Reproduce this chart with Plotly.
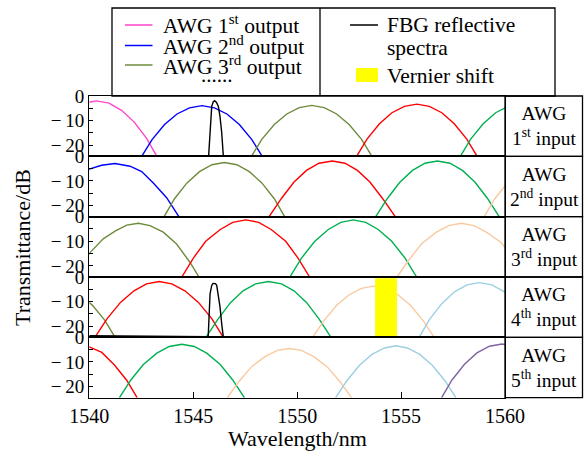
import plotly.graph_objects as go
from plotly.subplots import make_subplots

# ---------------- data (wavelength in nm, transmittance in dB) ----------------
x_ticks = [1540, 1545, 1550, 1555, 1560]
y_tickvals = [0, -5, -10, -15, -20]
y_ticktext = ["0", "", "\u2212\u200910", "", "\u2212\u200920"]
panel_labels = ["1<sup>st</sup>", "2<sup>nd</sup>", "3<sup>rd</sup>", "4<sup>th</sup>", "5<sup>th</sup>"]

# Panel 1 : AWG 1st input
p1_pink_x = [1537.45, 1537.95, 1538.55, 1539.15, 1539.75, 1540.35, 1540.95, 1541.55, 1542.15, 1542.75, 1543.25]
p1_pink_y = [-24.5, -17.1, -10.5, -5.8, -2.9, -2.0, -2.9, -5.8, -10.5, -17.1, -24.5]
p1_blue_x = [1542.52, 1543.02, 1543.62, 1544.22, 1544.82, 1545.42, 1546.02, 1546.62, 1547.22, 1547.82, 1548.32]
p1_blue_y = [-24.5, -17.7, -11.6, -7.3, -4.8, -3.9, -4.8, -7.3, -11.6, -17.7, -24.5]
p1_olive_x = [1547.8, 1548.3, 1548.9, 1549.5, 1550.1, 1550.7, 1551.3, 1551.9, 1552.5, 1553.1, 1553.6]
p1_olive_y = [-24.5, -17.6, -11.6, -7.3, -4.7, -3.8, -4.7, -7.3, -11.6, -17.6, -24.5]
p1_red_x = [1552.86, 1553.36, 1553.96, 1554.56, 1555.16, 1555.76, 1556.36, 1556.96, 1557.56, 1558.16, 1558.66]
p1_red_y = [-24.5, -17.5, -11.3, -6.8, -4.2, -3.3, -4.2, -6.8, -11.3, -17.5, -24.5]
p1_green_x = [1557.85, 1558.35, 1558.95, 1559.55, 1560.15, 1560.75, 1561.35, 1561.95]
p1_green_y = [-24.5, -17.5, -11.3, -6.8, -4.2, -3.3, -4.2, -6.8]
p1_fbg_x = [1545.74, 1545.81, 1545.89, 1545.96, 1546.03, 1546.12, 1546.21, 1546.29, 1546.37, 1546.45]
p1_fbg_y = [-24.5, -13.5, -4.2, -2.4, -1.9, -2.6, -4.2, -8.5, -14.8, -24.5]

# Panel 2 : AWG 2nd input
p2_blue_x = [1538.2, 1538.8, 1539.4, 1540.0, 1540.59, 1541.24, 1541.96, 1542.52, 1543.08, 1543.72, 1544.31]
p2_blue_y = [-24.5, -17.0, -10.5, -5.2, -3.6, -2.9, -4.0, -6.2, -10.8, -16.8, -24.5]
p2_olive_x = [1543.6, 1544.1, 1544.7, 1545.3, 1545.9, 1546.5, 1547.1, 1547.7, 1548.3, 1548.9, 1549.4]
p2_olive_y = [-24.5, -17.2, -10.8, -6.2, -3.4, -2.5, -3.4, -6.2, -10.8, -17.2, -24.5]
p2_red_x = [1548.65, 1549.25, 1549.85, 1550.45, 1551.05, 1551.69, 1552.3, 1552.9, 1553.5, 1554.1, 1554.72]
p2_red_y = [-24.5, -17.0, -10.4, -5.7, -2.8, -1.9, -2.8, -5.7, -10.4, -17.0, -24.5]
p2_green_x = [1553.78, 1554.35, 1554.95, 1555.55, 1556.15, 1556.75, 1557.35, 1557.95, 1558.55, 1559.15, 1559.72]
p2_green_y = [-24.5, -17.0, -10.4, -5.7, -2.8, -1.9, -2.8, -5.7, -10.4, -17.0, -24.5]
p2_peach_x = [1559.0, 1559.5, 1560.1, 1560.7, 1561.3, 1561.9]
p2_peach_y = [-24.5, -17.3, -10.9, -6.3, -3.6, -2.7]

# Panel 3 : AWG 3rd input
p3_olive_x = [1539.3, 1540.0, 1540.67, 1541.24, 1541.8, 1542.36, 1542.92, 1543.56, 1544.2, 1544.84, 1545.28]
p3_olive_y = [-24.5, -14.9, -9.0, -5.9, -3.4, -2.7, -3.6, -6.3, -11.1, -18.5, -24.5]
p3_red_x = [1544.45, 1545.0, 1545.6, 1546.3, 1546.9, 1547.53, 1548.15, 1548.75, 1549.45, 1550.05, 1550.6]
p3_red_y = [-24.5, -16.9, -10.0, -5.2, -2.3, -1.3, -2.3, -5.2, -10.0, -16.9, -24.5]
p3_green_x = [1549.65, 1550.2, 1550.85, 1551.5, 1552.1, 1552.7, 1553.3, 1553.9, 1554.55, 1555.2, 1555.75]
p3_green_y = [-24.5, -16.9, -10.0, -5.2, -2.3, -1.3, -2.3, -5.2, -10.0, -16.9, -24.5]
p3_peach_x = [1554.8, 1555.4, 1556.0, 1556.7, 1557.3, 1557.9, 1558.5, 1559.1, 1559.8, 1560.4, 1561.0]
p3_peach_y = [-24.5, -17.3, -10.9, -6.3, -3.6, -2.7, -3.6, -6.3, -10.4, -16.5, -24.5]

# Panel 4 : AWG 4th input
p4_olive_x = [1537.14, 1537.74, 1538.34, 1538.94, 1539.54, 1540.14, 1540.74, 1541.24]
p4_olive_y = [-7.0, -4.4, -3.5, -4.4, -7.0, -11.4, -17.5, -24.5]
p4_red_x = [1540.27, 1540.85, 1541.5, 1542.15, 1542.75, 1543.36, 1543.97, 1544.6, 1545.25, 1545.9, 1546.45]
p4_red_y = [-24.5, -17.0, -10.3, -5.6, -2.8, -1.8, -2.8, -5.6, -10.3, -17.0, -24.5]
p4_green_x = [1545.61, 1546.2, 1546.8, 1547.4, 1548.0, 1548.62, 1549.25, 1549.85, 1550.45, 1551.05, 1551.63]
p4_green_y = [-24.5, -17.0, -10.3, -5.6, -2.8, -1.8, -2.8, -5.6, -10.3, -17.0, -24.5]
p4_peach_x = [1550.74, 1551.3, 1551.9, 1552.5, 1553.1, 1553.67, 1554.25, 1554.85, 1555.45, 1556.05, 1556.6]
p4_peach_y = [-24.5, -17.6, -11.5, -7.2, -4.6, -3.7, -4.6, -7.2, -11.5, -17.6, -24.5]
p4_lblue_x = [1555.87, 1556.37, 1556.97, 1557.57, 1558.17, 1558.77, 1559.37, 1559.97, 1560.57]
p4_lblue_y = [-24.5, -17.2, -10.7, -6.0, -3.2, -2.3, -3.2, -6.0, -10.7]
p4_fbg_x = [1540.0, 1545.72, 1545.81, 1545.89, 1545.95, 1546.01, 1546.07, 1546.13, 1546.29, 1546.37, 1546.45]
p4_fbg_y = [-23.85, -24.25, -6.8, -3.4, -2.6, -2.5, -2.7, -3.4, -12.2, -19.0, -24.5]
vernier_x = [1553.75, 1554.8]
vernier_y = [-0.5, -24.5]

# Panel 5 : AWG 5th input
p5_red_x = [1538.2, 1538.8, 1539.4, 1540.0, 1540.6, 1541.2, 1541.8, 1542.3]
p5_red_y = [-6.6, -3.9, -3.0, -3.9, -6.1, -11.1, -17.4, -24.5]
p5_green_x = [1541.45, 1542.0, 1542.6, 1543.25, 1543.85, 1544.45, 1545.05, 1545.65, 1546.3, 1546.9, 1547.46]
p5_green_y = [-24.5, -17.3, -11.0, -6.4, -3.7, -2.8, -3.7, -6.4, -11.0, -17.3, -24.5]
p5_peach_x = [1546.64, 1547.2, 1547.8, 1548.45, 1549.05, 1549.63, 1550.2, 1550.8, 1551.45, 1552.05, 1552.62]
p5_peach_y = [-24.5, -17.9, -12.0, -7.8, -5.3, -4.5, -5.3, -7.8, -12.0, -17.9, -24.5]
p5_lblue_x = [1551.85, 1552.4, 1553.0, 1553.6, 1554.2, 1554.75, 1555.3, 1555.9, 1556.5, 1557.1, 1557.64]
p5_lblue_y = [-24.5, -17.5, -11.3, -6.9, -4.3, -3.4, -4.3, -6.9, -11.3, -17.5, -24.5]
p5_purple_x = [1556.95, 1557.45, 1558.05, 1558.65, 1559.25, 1559.85, 1560.45]
p5_purple_y = [-24.5, -17.3, -10.9, -6.3, -3.6, -2.7, -3.6]

# ---------------- styles ----------------
C = dict(pink="#ff44cc", blue="#0000ff", olive="#6e8b3d", red="#ff0000",
         green="#00b050", peach="#f9c9a0", lblue="#9ccfe2", purple="#8064a2",
         black="#000000")
FONT = "Liberation Serif, DejaVu Serif, serif"
W, H = 585, 453
PLOT_L, PLOT_R = 89.3, 505.0
PLOT_T, PLOT_B = 96.0, 397.7


def px(x):
    return x / W


def py(y):
    return 1 - y / H


panel_h = (PLOT_B - PLOT_T) / 5

fig = make_subplots(rows=5, cols=1, shared_xaxes=True, vertical_spacing=0)

panels = [
    [(p1_pink_x, p1_pink_y, "pink"), (p1_blue_x, p1_blue_y, "blue"), (p1_olive_x, p1_olive_y, "olive"),
     (p1_red_x, p1_red_y, "red"), (p1_green_x, p1_green_y, "green"), (p1_fbg_x, p1_fbg_y, "black")],
    [(p2_blue_x, p2_blue_y, "blue"), (p2_olive_x, p2_olive_y, "olive"), (p2_red_x, p2_red_y, "red"),
     (p2_green_x, p2_green_y, "green"), (p2_peach_x, p2_peach_y, "peach")],
    [(p3_olive_x, p3_olive_y, "olive"), (p3_red_x, p3_red_y, "red"), (p3_green_x, p3_green_y, "green"),
     (p3_peach_x, p3_peach_y, "peach")],
    [(p4_olive_x, p4_olive_y, "olive"), (p4_red_x, p4_red_y, "red"), (p4_green_x, p4_green_y, "green"),
     (p4_peach_x, p4_peach_y, "peach"), (p4_lblue_x, p4_lblue_y, "lblue"), (p4_fbg_x, p4_fbg_y, "black")],
    [(p5_red_x, p5_red_y, "red"), (p5_green_x, p5_green_y, "green"), (p5_peach_x, p5_peach_y, "peach"),
     (p5_lblue_x, p5_lblue_y, "lblue"), (p5_purple_x, p5_purple_y, "purple")],
]

for i, curves in enumerate(panels):
    for xs, ys, col in curves:
        fig.add_trace(go.Scatter(x=xs, y=ys, mode="lines",
                                 line=dict(color=C[col], width=1.4), hoverinfo="skip"),
                      row=i + 1, col=1)
    if i == 3:
        fig.add_trace(go.Scatter(
            x=[vernier_x[0], vernier_x[1], vernier_x[1], vernier_x[0], vernier_x[0]],
            y=[vernier_y[0], vernier_y[0], vernier_y[1], vernier_y[1], vernier_y[0]],
            mode="lines", fill="toself", fillcolor="#ffff00",
            line=dict(width=0, color="#ffff00"), hoverinfo="skip"), row=4, col=1)

for i in range(5):
    top = PLOT_T + i * panel_h
    bot = top + panel_h
    xa = "xaxis" if i == 0 else f"xaxis{i + 1}"
    ya = "yaxis" if i == 0 else f"yaxis{i + 1}"
    last = (i == 4)
    fig.layout[xa].update(
        domain=[px(PLOT_L), px(PLOT_R)], range=[1540, 1560], automargin=False,
        showline=True, mirror=True, linecolor="black", linewidth=1.3,
        showgrid=False, zeroline=False,
        tickvals=x_ticks, ticks="inside" if last else "", ticklen=6,
        tickcolor="black", tickwidth=1.2,
        showticklabels=last, tickfont=dict(family=FONT, size=20, color="black"))
    fig.layout[ya].update(
        domain=[py(bot), py(top)], range=[-24.5, 0], automargin=False,
        showline=True, mirror=True, linecolor="black", linewidth=1.3,
        showgrid=False, zeroline=False,
        tickvals=y_tickvals, ticktext=y_ticktext, ticks="inside", ticklen=4,
        tickcolor="black", tickwidth=1.2,
        tickfont=dict(family=FONT, size=19, color="black"))

shapes = []
annotations = []
line_style = dict(color="black", width=1.3)

# right-hand label boxes
for i in range(5):
    top = PLOT_T + i * panel_h
    bot = top + panel_h
    shapes.append(dict(type="rect", xref="paper", yref="paper",
                       x0=px(PLOT_R), x1=px(582.5), y0=py(bot), y1=py(top), line=line_style))
    annotations.append(dict(xref="paper", yref="paper", x=px(544), y=py((top + bot) / 2),
                            text="AWG<br>" + panel_labels[i] + " input", showarrow=False,
                            xanchor="center", yanchor="middle", align="center",
                            font=dict(family=FONT, size=19.5, color="black")))

# top legend box
shapes.append(dict(type="rect", xref="paper", yref="paper", x0=px(112), x1=px(555),
                   y0=py(PLOT_T), y1=py(8), line=line_style))
shapes.append(dict(type="line", xref="paper", yref="paper", x0=px(320), x1=px(320),
                   y0=py(PLOT_T), y1=py(8), line=line_style))
legend_left = [("pink", "AWG 1<sup>st</sup> output", 25),
               ("blue", "AWG 2<sup>nd</sup> output", 45.5),
               ("olive", "AWG 3<sup>rd</sup> output", 65)]
for col, txt, yy in legend_left:
    shapes.append(dict(type="line", xref="paper", yref="paper", x0=px(125), x1=px(152.5),
                       y0=py(yy), y1=py(yy), line=dict(color=C[col], width=1.5)))
    annotations.append(dict(xref="paper", yref="paper", x=px(161), y=py(yy), text=txt,
                            showarrow=False, xanchor="left", yanchor="middle",
                            font=dict(family=FONT, size=21.5, color="black")))
annotations.append(dict(xref="paper", yref="paper", x=px(217), y=py(75), text="......",
                        showarrow=False, xanchor="center", yanchor="middle",
                        font=dict(family=FONT, size=21, color="black")))
shapes.append(dict(type="line", xref="paper", yref="paper", x0=px(350), x1=px(378),
                   y0=py(25), y1=py(25), line=dict(color="black", width=1.5)))
annotations.append(dict(xref="paper", yref="paper", x=px(385), y=py(25), text="FBG reflective",
                        showarrow=False, xanchor="left", yanchor="middle",
                        font=dict(family=FONT, size=21.5, color="black")))
annotations.append(dict(xref="paper", yref="paper", x=px(385), y=py(48.5), text="spectra",
                        showarrow=False, xanchor="left", yanchor="middle",
                        font=dict(family=FONT, size=21.5, color="black")))
shapes.append(dict(type="rect", xref="paper", yref="paper", x0=px(356), x1=px(378),
                   y0=py(82), y1=py(68), fillcolor="#ffff00", line=dict(width=0)))
annotations.append(dict(xref="paper", yref="paper", x=px(385), y=py(76), text="Vernier shift",
                        showarrow=False, xanchor="left", yanchor="middle",
                        font=dict(family=FONT, size=21.5, color="black")))

# axis titles
annotations.append(dict(xref="paper", yref="paper", x=px((PLOT_L + PLOT_R) / 2), y=py(438),
                        text="Wavelength/nm", showarrow=False, xanchor="center", yanchor="middle",
                        font=dict(family=FONT, size=22, color="black")))
annotations.append(dict(xref="paper", yref="paper", x=px(22), y=py(248),
                        text="Transmittance/dB", showarrow=False, textangle=-90,
                        xanchor="center", yanchor="middle",
                        font=dict(family=FONT, size=22, color="black")))

fig.update_layout(width=W, height=H, margin=dict(l=0, r=0, t=0, b=0, autoexpand=False),
                  plot_bgcolor="white", paper_bgcolor="white", showlegend=False,
                  font=dict(family=FONT, color="black"),
                  shapes=shapes, annotations=annotations)

fig.write_html("out.html")
